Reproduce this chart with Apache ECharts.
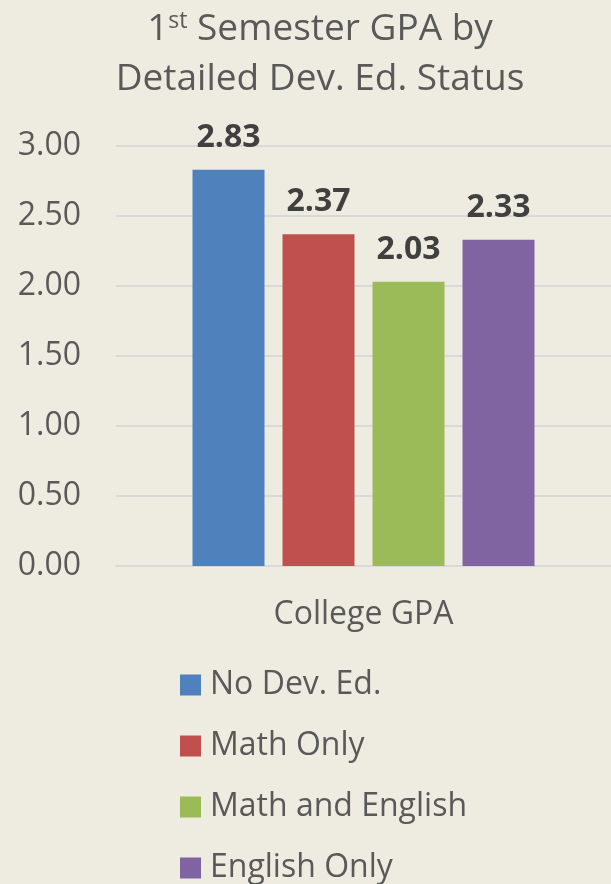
<!DOCTYPE html>
<html>
<head>
<meta charset="utf-8">
<script src="https://cdn.jsdelivr.net/npm/echarts@6/dist/echarts.min.js"></script>
<style>
html,body{margin:0;padding:0;background:#EEECE1;}
#chart{width:611px;height:884px;}
</style>
</head>
<body>
<div id="chart"></div>
<script>
var categories = ['College GPA'];
var seriesNames = ['No Dev. Ed.', 'Math Only', 'Math and English', 'English Only'];
var seriesValues = [2.83, 2.37, 2.03, 2.33];
var yTicks = { min: 0, max: 3, interval: 0.5 };

var palette = ['#4F81BD', '#C0504D', '#9BBB59', '#8064A2'];
var FONT = 'Open Sans';

var chart = echarts.init(document.getElementById('chart'), null, { renderer: 'canvas' });

var series = seriesNames.map(function (name, i) {
  return {
    name: name,
    type: 'bar',
    data: [seriesValues[i]],
    barWidth: 72,
    barGap: '25%',
    itemStyle: { color: palette[i] },
    label: {
      show: true,
      position: 'top',
      distance: 16,
      fontFamily: FONT,
      fontSize: 32,
      fontWeight: 'bold',
      lineHeight: 32,
      color: '#404040',
      formatter: function (p) { return p.value.toFixed(2); }
    }
  };
});

chart.setOption({
  backgroundColor: '#EEECE1',
  animation: false,
  textStyle: { fontFamily: FONT },
  title: {
    text: '{a|1}{sup|st}{a| Semester GPA by}\n{a|Detailed Dev. Ed. Status}',
    left: 320,
    top: 4,
    padding: 0,
    textAlign: 'center',
    textStyle: {
      fontFamily: FONT,
      fontSize: 37,
      fontWeight: 'normal',
      color: '#595959',
      lineHeight: 50,
      rich: {
        a: { fontFamily: FONT, fontSize: 37, color: '#595959', lineHeight: 50 },
        sup: { fontFamily: FONT, fontSize: 23, color: '#595959', lineHeight: 23, padding: [6, 0, 0, 0], verticalAlign: 'top' }
      }
    }
  },
  legend: {
    orient: 'vertical',
    left: 180,
    top: 669,
    padding: 0,
    itemWidth: 21,
    itemHeight: 21,
    itemGap: 29,
    icon: 'rect',
    data: seriesNames,
    textStyle: {
      fontFamily: FONT,
      fontSize: 32,
      color: '#595959',
      lineHeight: 32,
      padding: [0, 0, 0, 4]
    }
  },
  grid: { left: 116, right: 0, top: 146, bottom: 318, containLabel: false },
  xAxis: {
    type: 'category',
    data: categories,
    axisLine: { show: true, lineStyle: { color: '#D9D9D9', width: 2 } },
    axisTick: { show: false },
    axisLabel: {
      fontFamily: FONT,
      fontSize: 32,
      color: '#595959',
      margin: 33,
      lineHeight: 32
    }
  },
  yAxis: {
    type: 'value',
    min: yTicks.min,
    max: yTicks.max,
    interval: yTicks.interval,
    axisLine: { show: false },
    axisTick: { show: false },
    splitLine: { lineStyle: { color: '#D9D9D9', width: 2 } },
    axisLabel: {
      fontFamily: FONT,
      fontSize: 32,
      color: '#595959',
      margin: 35,
      formatter: function (v) { return v.toFixed(2); }
    }
  },
  series: series
});
</script>
</body>
</html>
